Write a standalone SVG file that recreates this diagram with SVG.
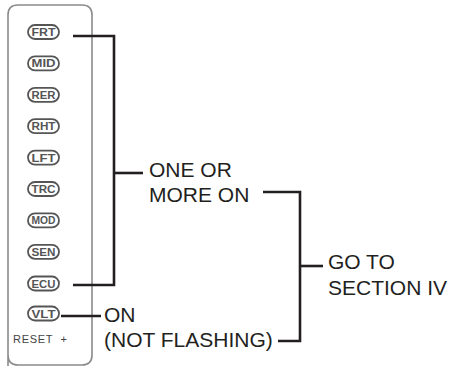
<svg xmlns="http://www.w3.org/2000/svg" width="452" height="366" viewBox="0 0 452 366">
<style>
.pill{fill:#fff;stroke:#555;stroke-width:1.8}
.pt{font-family:"Liberation Sans",Arial,sans-serif;font-size:11px;font-weight:bold;fill:#555;text-anchor:middle}
.lbl{font-family:"Liberation Sans",Arial,sans-serif;font-size:21px;fill:#231f20}
.ln{stroke:#231f20;stroke-width:2.6;fill:none}
</style>
<rect width="452" height="366" fill="#fff"/>
<g id="panel">
<path d="M8,372 L8,15 Q8,5 18,5 L82,5 Q92,5 92,15 L92,355 Q92,365 82,365 L18,365 Q8,365 8,355" fill="none" stroke="#8a8a8a" stroke-width="1.6"/>
</g>
<g id="frt"><rect class="pill" x="28" y="25" width="31" height="14" rx="7"/><text class="pt" x="43.5" y="36" textLength="24" lengthAdjust="spacingAndGlyphs">FRT</text></g>
<g id="mid"><rect class="pill" x="28" y="56.4" width="31" height="14" rx="7"/><text class="pt" x="43.5" y="67.4" textLength="24" lengthAdjust="spacingAndGlyphs">MID</text></g>
<g id="rer"><rect class="pill" x="28" y="87.8" width="31" height="14" rx="7"/><text class="pt" x="43.5" y="98.8" textLength="24" lengthAdjust="spacingAndGlyphs">RER</text></g>
<g id="rht"><rect class="pill" x="28" y="119.2" width="31" height="14" rx="7"/><text class="pt" x="43.5" y="130.2" textLength="24" lengthAdjust="spacingAndGlyphs">RHT</text></g>
<g id="lft"><rect class="pill" x="28" y="150.6" width="31" height="14" rx="7"/><text class="pt" x="43.5" y="161.6" textLength="24" lengthAdjust="spacingAndGlyphs">LFT</text></g>
<g id="trc"><rect class="pill" x="28" y="182" width="31" height="14" rx="7"/><text class="pt" x="43.5" y="193" textLength="24" lengthAdjust="spacingAndGlyphs">TRC</text></g>
<g id="mod"><rect class="pill" x="28" y="213.4" width="31" height="14" rx="7"/><text class="pt" x="43.5" y="224.4" textLength="24" lengthAdjust="spacingAndGlyphs">MOD</text></g>
<g id="sen"><rect class="pill" x="28" y="244.8" width="31" height="14" rx="7"/><text class="pt" x="43.5" y="255.8" textLength="24" lengthAdjust="spacingAndGlyphs">SEN</text></g>
<g id="ecu"><rect class="pill" x="28" y="276.5" width="31" height="14" rx="7"/><text class="pt" x="43.5" y="287.5" textLength="24" lengthAdjust="spacingAndGlyphs">ECU</text></g>
<g id="vlt"><rect class="pill" x="28" y="306.5" width="31" height="14" rx="7"/><text class="pt" x="43.5" y="317.5" textLength="24" lengthAdjust="spacingAndGlyphs">VLT</text></g>
<g id="reset"><text x="13" y="343" font-family="Liberation Sans,Arial,sans-serif" font-size="11" fill="#444" xml:space="preserve" textLength="54" lengthAdjust="spacing">RESET  +</text></g>
<g id="connectors">
<path class="ln" d="M73,36 H114 V285 H73"/>
<path class="ln" d="M114,173 H143"/>
<path class="ln" d="M263,192 H300 V341 H278"/>
<path class="ln" d="M300,266 H323"/>
<path class="ln" d="M61,316 H101"/>
</g>
<g id="one-or-more">
<text class="lbl" x="149" y="176.5">ONE OR</text>
<text class="lbl" x="149" y="202">MORE ON</text>
</g>
<g id="goto">
<text class="lbl" x="328" y="269">GO TO</text>
<text class="lbl" x="328" y="294.5">SECTION IV</text>
</g>
<g id="on">
<text class="lbl" x="104" y="322">ON</text>
<text class="lbl" x="104" y="347">(NOT FLASHING)</text>
</g>
</svg>
